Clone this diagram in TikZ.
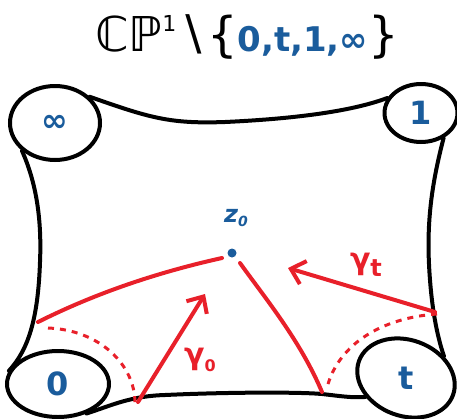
\documentclass[tikz,border=0pt]{standalone}
\usepackage{fontspec}
\setmainfont{DejaVu Sans}
\usetikzlibrary{shapes.geometric,arrows.meta}
\definecolor{pblue}{HTML}{1A5C9C}
\definecolor{pred}{HTML}{E8202A}
\tikzset{
  disk/.style={ellipse,draw=black,line width=4pt,inner sep=0pt,text=pblue,font=\bfseries\fontsize{32}{32}\selectfont},
  edge/.style={draw=black,line width=4pt,line cap=round},
  redline/.style={draw=pred,line width=4pt,line cap=round},
  reddash/.style={draw=pred,line width=3pt,dash pattern=on 6pt off 6pt},
  redarrow/.style={redline,-{Straight Barb[length=13pt,width=24pt,line width=4pt]}},
  lbl/.style={text=pred,font=\bfseries\fontsize{30}{30}\selectfont}
}
\begin{document}
\begin{tikzpicture}[x=1pt,y=-1pt]
\useasboundingbox (0,0) rectangle (457,418);
% title
\node (title) at (247,37) {\fontsize{48}{48}\selectfont ℂℙ\raisebox{0.75ex}{\fontsize{22}{22}\selectfont 1}∖\{\textcolor{pblue}{\bfseries\fontsize{34}{34}\selectfont 0,t,1,∞}\}};
% disks
\node[disk,minimum width=90pt,minimum height=74pt] (inf) at (55,123) {∞};
\node[disk,minimum width=73pt,minimum height=58pt] (one) at (421,113) {1};
\node[disk,minimum width=102pt,minimum height=66pt] (zero) at (58,384) {0};
\node[disk,minimum width=100pt,minimum height=76pt,rotate=-20] (tt) at (406,378) {\rotatebox{20}{t}};
% boundary
\draw[edge] (inf.37) .. controls (150,118) and (170,124) .. (225,122)
  .. controls (290,119) and (350,112) .. (one.156);
\draw[edge] (inf.220) .. controls (35,180) and (42,215) .. (40,262)
  .. controls (38,320) and (28,350) .. (zero.165);
\draw[edge] (one.312) .. controls (430,190) and (426,230) .. (430,280)
  .. controls (433,320) and (440,345) .. (tt.50);
\draw[edge] (zero.314) .. controls (110,406) and (130,396) .. (165,395)
  .. controls (230,392) and (300,392) .. (322,394)
  .. controls (340,396) and (352,398) .. (tt.225);
% base point
\fill[pblue] (232,253) circle (4.5pt) coordinate (z0);
\node[text=pblue,font=\bfseries\fontsize{24}{24}\selectfont\itshape] (z0lbl) at (236,218) {z\raisebox{-0.3ex}{\fontsize{14}{14}\selectfont 0}};
% red cuts
\coordinate (lA) at (38,322);
\coordinate (lB) at (222,258);
\draw[redline] (lA) .. controls (90,296) and (150,274) .. (lB);
\coordinate (mA) at (240,263);
\coordinate (mB) at (322,392);
\draw[redline] (mA) .. controls (265,298) and (300,340) .. (mB);
% dashed arcs
\coordinate (dA) at (48,328);
\coordinate (dB) at (135,403);
\draw[reddash] (dA) .. controls (100,330) and (135,365) .. (dB);
\coordinate (eA) at (437,314);
\coordinate (eB) at (328,384);
\draw[reddash] (eA) .. controls (380,318) and (340,345) .. (eB);
% arrows
\coordinate (g0A) at (138,402);
\coordinate (g0B) at (205,294);
\draw[redarrow] (g0A) -- (g0B);
\node[lbl] (g0) at (200,360) {γ\raisebox{-0.4ex}{\fontsize{16}{16}\selectfont 0}};
\coordinate (gtA) at (435,312);
\coordinate (gtB) at (288,268);
\draw[redarrow] (gtA) -- (gtB);
\node[lbl] (gt) at (366,265) {γ\raisebox{-0.4ex}{\fontsize{24}{24}\selectfont t}};
\end{tikzpicture}
\end{document}
